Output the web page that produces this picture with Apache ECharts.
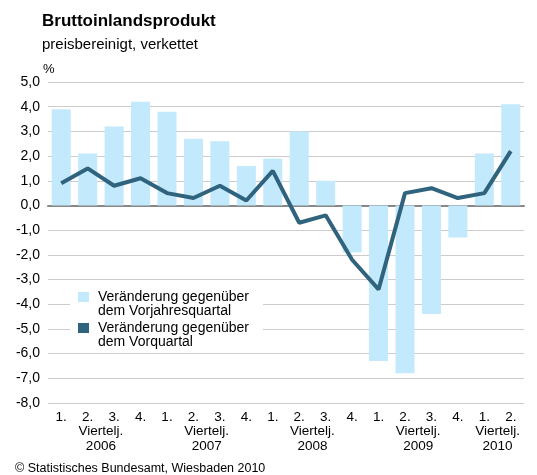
<!DOCTYPE html>
<html>
<head>
<meta charset="utf-8">
<script src="https://cdn.jsdelivr.net/npm/echarts@6/dist/echarts.min.js"></script>
<style>
  html, body { margin: 0; padding: 0; background: #fff; }
  #chart { width: 537px; height: 475px; }
</style>
</head>
<body>
<div id="chart"></div>
<script>
// quarters 2006 Q1 .. 2010 Q2
const quarters = ["1.", "2.", "3.", "4.", "1.", "2.", "3.", "4.", "1.", "2.", "3.", "4.", "1.", "2.", "3.", "4.", "1.", "2."];
const years = ["2006", "2007", "2008", "2009", "2010"];
// year label sits between two quarters (k = boundary index in half-steps)
const yearSlots = [4, 12, 20, 28, 34];

// Veränderung gegenüber dem Vorjahresquartal
const vorjahr = [3.9, 2.1, 3.2, 4.2, 3.8, 2.7, 2.6, 1.6, 1.9, 3.0, 1.0, -1.9, -6.3, -6.8, -4.4, -1.3, 2.1, 4.1];
// Veränderung gegenüber dem Vorquartal
const vorquartal = [0.9, 1.5, 0.8, 1.1, 0.5, 0.3, 0.8, 0.2, 1.4, -0.7, -0.4, -2.2, -3.4, 0.5, 0.7, 0.3, 0.5, 2.2];

const fontFamily = "Liberation Sans, Arial, sans-serif";

// 37 boundary points so the year labels can sit between two quarters
const halfSlots = [];
for (let k = 0; k <= quarters.length * 2; k++) {
  const idx = yearSlots.indexOf(k);
  halfSlots.push(idx >= 0 ? "Viertelj.\n" + years[idx] : "");
}

const chart = echarts.init(document.getElementById("chart"));

chart.setOption({
  backgroundColor: "#fff",
  animation: false,
  textStyle: { fontFamily: fontFamily },
  title: [
    {
      text: "Bruttoinlandsprodukt",
      left: 37,
      top: 8,
      textStyle: { fontSize: 17, fontWeight: "bold", color: "#000", fontFamily: fontFamily }
    },
    {
      text: "preisbereinigt, verkettet",
      left: 37,
      top: 32,
      textStyle: { fontSize: 15, fontWeight: "normal", color: "#000", fontFamily: fontFamily }
    },
    {
      text: "%",
      left: 38,
      top: 58,
      textStyle: { fontSize: 13, fontWeight: "normal", color: "#000", fontFamily: fontFamily }
    },
    {
      text: "© Statistisches Bundesamt, Wiesbaden 2010",
      left: 10,
      top: 457,
      textStyle: { fontSize: 12.5, fontWeight: "normal", color: "#000", fontFamily: fontFamily }
    }
  ],
  legend: {
    orient: "vertical",
    left: 70,
    top: 283,
    padding: [-7, 14, 0, 8],
    itemGap: -11,
    itemWidth: 11,
    itemHeight: 10,
    backgroundColor: "#fff",
    selectedMode: false,
    // leading empty line keeps the icon level with the first text line
    formatter: name => "\n" + name,
    textStyle: {
      fontSize: 14,
      color: "#000",
      lineHeight: 14,
      padding: [0, 0, 0, 4]
    },
    data: [
      { name: "Veränderung gegenüber\ndem Vorjahresquartal", icon: "rect" },
      { name: "Veränderung gegenüber\ndem Vorquartal", icon: "rect" }
    ]
  },
  grid: { left: 48, right: 13, top: 82, bottom: 72 },
  xAxis: [
    {
      type: "category",
      data: quarters,
      axisLine: { show: false, onZero: false },
      axisTick: { show: false },
      axisLabel: { color: "#000", fontSize: 13.5, margin: 7, interval: 0 }
    },
    {
      type: "category",
      data: halfSlots,
      boundaryGap: false,
      position: "bottom",
      axisLine: { show: false, onZero: false },
      axisTick: { show: false },
      axisLabel: { color: "#000", fontSize: 13.5, margin: 21, lineHeight: 15, interval: 0, align: "center" }
    },
    {
      type: "category",
      data: quarters,
      axisLine: { show: true, onZero: true, lineStyle: { color: "#888", width: 2 } },
      axisTick: { show: false },
      axisLabel: { show: false }
    }
  ],
  yAxis: {
    type: "value",
    min: -8,
    max: 5,
    interval: 1,
    axisLine: { show: false },
    axisTick: { show: false },
    axisLabel: {
      color: "#000",
      fontSize: 14,
      margin: 8,
      formatter: v => v.toFixed(1).replace(".", ",")
    },
    splitLine: { lineStyle: { color: "#cccccc", width: 1 } }
  },
  series: [
    {
      name: "Veränderung gegenüber\ndem Vorjahresquartal",
      type: "bar",
      data: vorjahr,
      barWidth: 19,
      itemStyle: { color: "#c3e9fc" }
    },
    {
      name: "Veränderung gegenüber\ndem Vorquartal",
      type: "line",
      data: vorquartal,
      symbol: "none",
      lineStyle: { color: "#30637d", width: 4 },
      itemStyle: { color: "#30637d" }
    }
  ]
});
</script>
</body>
</html>
